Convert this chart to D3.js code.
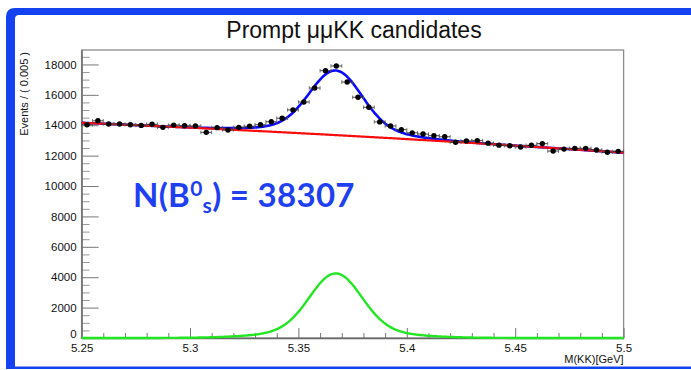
<!DOCTYPE html>
<html><head><meta charset="utf-8">
<script src="https://cdn.jsdelivr.net/npm/d3@7/dist/d3.min.js"></script>
<style>body{margin:0;background:#fff}svg{display:block}</style>
</head><body><svg id="c" width="691" height="370"></svg>
<script>
// ---- chart values ----
const titleText = "Prompt μμKK candidates";
const yTitleText = "Events / ( 0.005 )";
const xTitleText = "M(KK)[GeV]";
const massRange = [5.25, 5.5];
const binWidth = 0.005;
const counts = [
  14030, 14290, 14080, 14080, 14030, 13990, 14060, 13860, 14010, 13970,
  13950, 13530, 13840, 13690, 13860, 13930, 14030, 14230, 14460, 15010,
  15530, 16450, 17590, 17900, 16840, 15840, 15180, 14220, 13950, 13710,
  13500, 13420, 13310, 13240, 12880, 12970, 12990, 12820, 12690, 12650,
  12570, 12680, 12790, 12300, 12430, 12480, 12480, 12370, 12220, 12280
];
const yMax = 18950;
const yTicks = [0, 2000, 4000, 6000, 8000, 10000, 12000, 14000, 16000, 18000];
const yMinorStep = 500;
const xTicks = [5.25, 5.3, 5.35, 5.4, 5.45, 5.5];
const xTickLabels = ["5.25", "5.3", "5.35", "5.4", "5.45", "5.5"];
const xMinorStep = 0.01;
// fitted model: signal = core + wide gaussian, quadratic background
const sigMean = 5.3672;
const sigCore = { peak: 3700, sigma: 0.0118 };
const sigWide = { peak: 550, sigma: 0.026 };
const bkgAnchors = [14160, 13289, 12191]; // background at low, middle, high mass
const yieldLabel = "38307";

// ---- drawing ----
const svg = d3.select("#c");
const pL = 81.6, pR = 623.6, pT = 50, pB = 338;
const x = d3.scaleLinear().domain(massRange).range([pL, pR]);
const y = d3.scaleLinear().domain([0, yMax]).range([pB, pT]);
const FONT = "'Liberation Sans', Arial, Helvetica, sans-serif";

// slide border
svg.append("path")
  .attr("d", "M6,369 L6,17 Q6,8 15,8 L691,8 L691,15 L19,15 Q15,15 15,19 L15,366.5 L691,366.5 L691,369 Z")
  .attr("fill", "#1442f0");

// title
svg.append("text").attr("x", 354).attr("y", 38).attr("text-anchor", "middle")
  .attr("font-family", FONT).attr("font-size", 23).attr("fill", "#111").text(titleText);

// frame
svg.append("rect").attr("x", pL).attr("y", pT).attr("width", pR - pL).attr("height", pB - pT)
  .attr("fill", "none").attr("stroke", "#8c8c8c").attr("stroke-width", 1.3);

// y axis
const yMinor = d3.range(0, yMax, yMinorStep).filter(v => v % 2000 !== 0);
svg.append("g").attr("transform", `translate(${pL},0)`)
  .call(d3.axisLeft(y).tickValues(yMinor).tickSize(-8).tickFormat(""))
  .call(g => g.select(".domain").remove())
  .call(g => g.selectAll("line").attr("stroke", "#999"));
svg.append("g").attr("transform", `translate(${pL},0)`)
  .call(d3.axisLeft(y).tickValues(yTicks).tickSize(-17).tickPadding(5).tickSizeOuter(0).tickFormat(d3.format("d")))
  .call(g => g.select(".domain").attr("stroke", "#666").attr("stroke-width", 1.3))
  .call(g => g.selectAll("line").attr("stroke", "#777"))
  .call(g => g.selectAll("text").attr("font-family", FONT).attr("font-size", 11.5).attr("fill", "#111"))
  .call(g => g.selectAll(".tick").filter(d => d === 0).select("text").attr("dy", "-0.05em"));

// x axis
const xMinor = d3.range(0, 26).map(i => massRange[0] + i * xMinorStep).filter((v, i) => i % 5 !== 0);
svg.append("g").attr("transform", `translate(0,${pB})`)
  .call(d3.axisBottom(x).tickValues(xMinor).tickSize(-5).tickFormat(""))
  .call(g => g.select(".domain").remove())
  .call(g => g.selectAll("line").attr("stroke", "#777"));
svg.append("g").attr("transform", `translate(0,${pB})`)
  .call(d3.axisBottom(x).tickValues(xTicks).tickSize(-10).tickPadding(6).tickSizeOuter(0).tickFormat((d, i) => xTickLabels[i]))
  .call(g => g.select(".domain").attr("stroke", "#666").attr("stroke-width", 1.3))
  .call(g => g.selectAll("line").attr("stroke", "#777"))
  .call(g => g.selectAll("text").attr("font-family", FONT).attr("font-size", 11.5).attr("fill", "#111"));

// axis titles
svg.append("text").attr("transform", "translate(28,52) rotate(-90)").attr("text-anchor", "end")
  .attr("font-family", FONT).attr("font-size", 11).attr("fill", "#111").text(yTitleText);
svg.append("text").attr("x", pR).attr("y", 362.5).attr("text-anchor", "end")
  .attr("font-family", FONT).attr("font-size", 11).attr("fill", "#111").text(xTitleText);

// model curves
const [m0, m1] = massRange;
function bkg(m) {
  const t = (m - m0) / (m1 - m0);
  const [a, mid, c] = bkgAnchors;
  return a * 2 * (t - 0.5) * (t - 1) - mid * 4 * t * (t - 1) + c * 2 * t * (t - 0.5);
}
const gauss = (m, g) => { const z = (m - sigMean) / g.sigma; return g.peak * Math.exp(-0.5 * z * z); };
const sig = m => gauss(m, sigCore) + gauss(m, sigWide);
const ms = d3.range(0, 601).map(i => m0 + (m1 - m0) * i / 600);
const line = f => d3.line().x(m => x(m)).y(m => y(f(m)))(ms);

svg.append("path").attr("d", line(m => bkg(m) + sig(m))).attr("fill", "none")
  .attr("stroke", "#0a0aff").attr("stroke-width", 2.6);
svg.append("path").attr("d", line(bkg)).attr("fill", "none")
  .attr("stroke", "#ff0a0a").attr("stroke-width", 2.2);
svg.append("path").attr("d", line(sig)).attr("fill", "none")
  .attr("stroke", "#22e622").attr("stroke-width", 2.4);

// data points with error bars
const pts = counts.map((c, i) => ({ m: m0 + (i + 0.5) * binWidth, c }));
const gp = svg.append("g");
pts.forEach(p => {
  const cx = x(p.m), cy = y(p.c);
  const xl = x(p.m - binWidth / 2), xr = x(p.m + binWidth / 2);
  gp.append("line").attr("x1", xl).attr("x2", xr).attr("y1", cy).attr("y2", cy).attr("stroke", "#333").attr("stroke-width", 0.9);
  gp.append("line").attr("x1", xl).attr("x2", xl).attr("y1", cy - 1.8).attr("y2", cy + 1.8).attr("stroke", "#555").attr("stroke-width", 0.8);
  gp.append("line").attr("x1", xr).attr("x2", xr).attr("y1", cy - 1.8).attr("y2", cy + 1.8).attr("stroke", "#555").attr("stroke-width", 0.8);
  const e = Math.sqrt(p.c);
  gp.append("line").attr("x1", cx).attr("x2", cx).attr("y1", y(p.c - e)).attr("y2", y(p.c + e)).attr("stroke", "#111").attr("stroke-width", 1);
  gp.append("circle").attr("cx", cx).attr("cy", cy).attr("r", 2.7).attr("fill", "#000");
});

// yield annotation
const ann = svg.append("text").attr("x", 133).attr("y", 207)
  .attr("font-family", "Lato, 'Open Sans', sans-serif").attr("font-weight", 700)
  .attr("font-size", 33).attr("letter-spacing", 0.3).attr("fill", "#1f3ff2");
ann.append("tspan").text("N(B");
ann.append("tspan").attr("font-size", 21).attr("dy", -11).text("0");
ann.append("tspan").attr("font-size", 21).attr("dy", 17).text("s");
ann.append("tspan").attr("dy", -6).text(") = " + yieldLabel);
</script>
</body></html>
